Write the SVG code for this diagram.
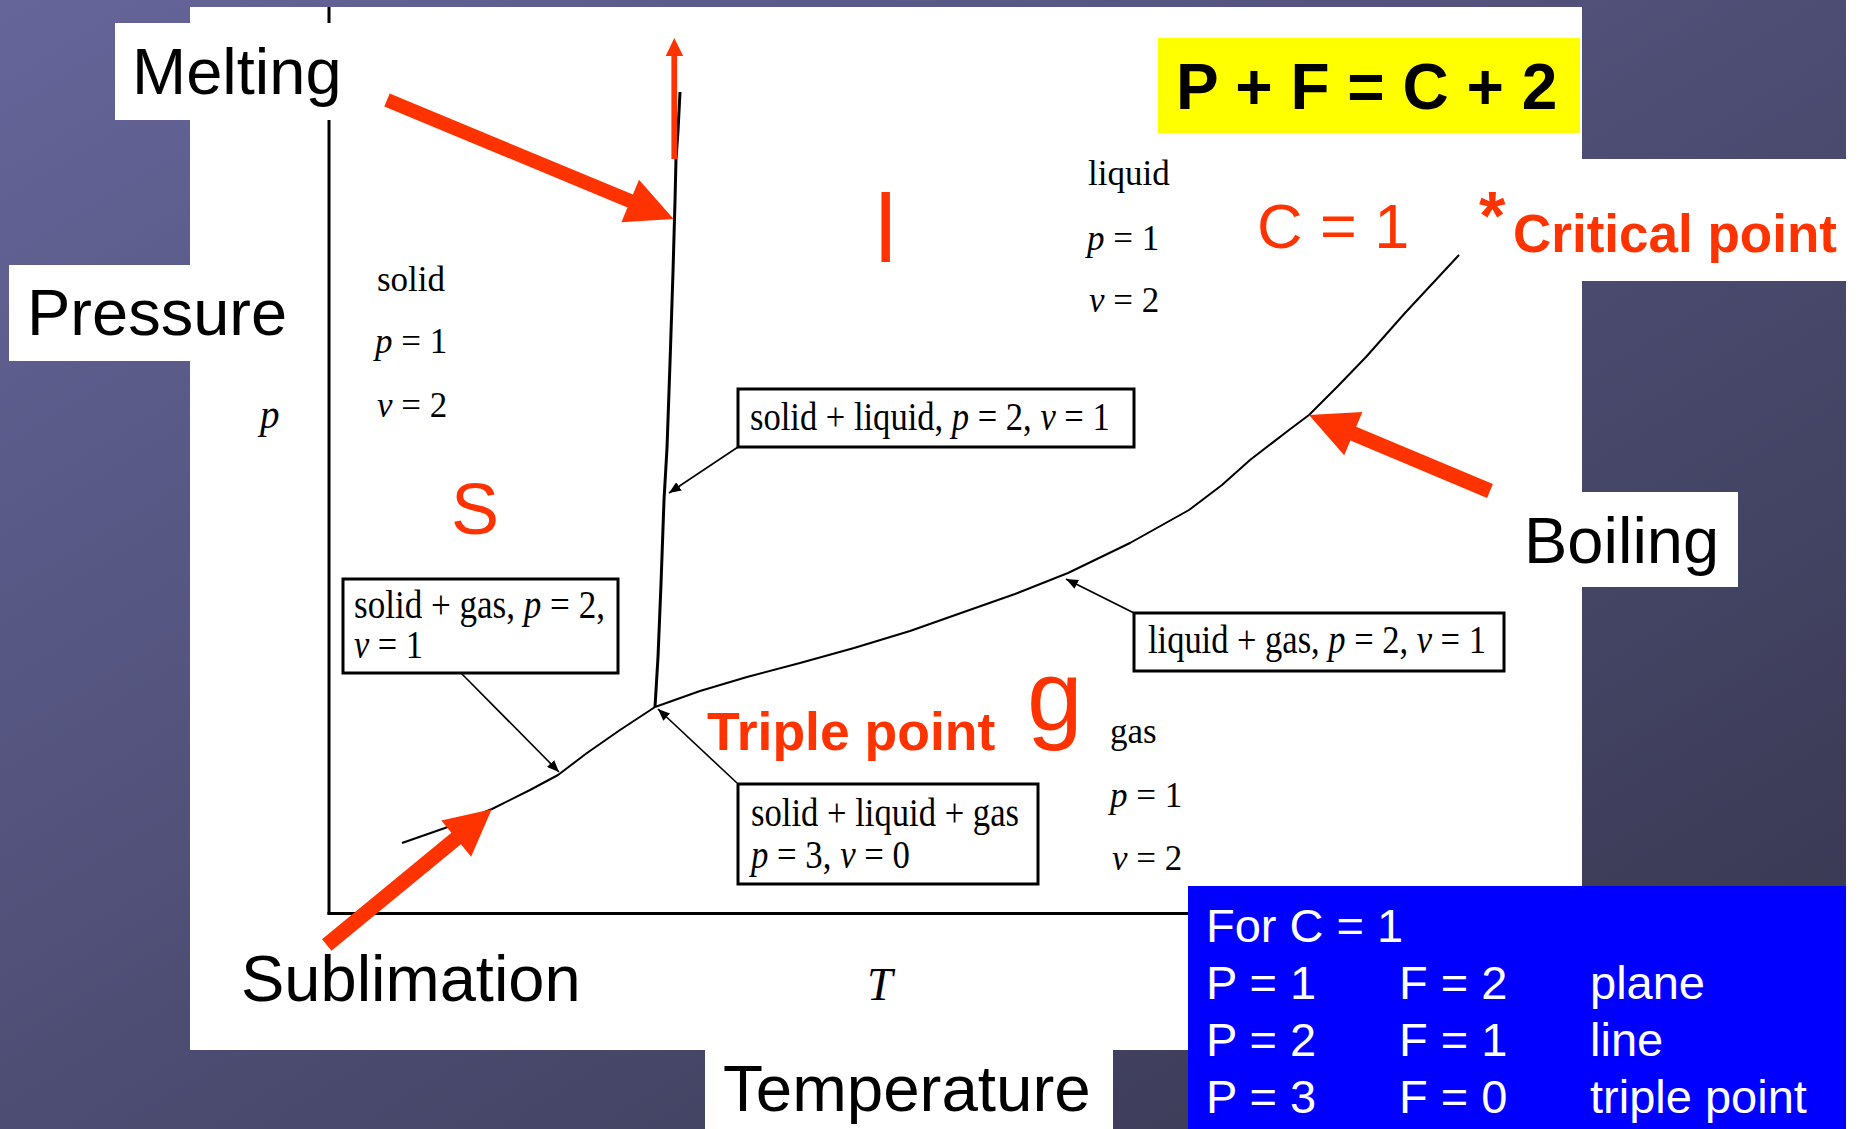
<svg xmlns="http://www.w3.org/2000/svg" width="1858" height="1129" viewBox="0 0 1858 1129">
  <defs>
    <linearGradient id="bg" x1="0" y1="0" x2="1" y2="1">
      <stop offset="0" stop-color="#65659a"/>
      <stop offset="1" stop-color="#35354d"/>
    </linearGradient>
    <marker id="ah" viewBox="0 0 12 10" refX="12" refY="5" markerWidth="12" markerHeight="10" markerUnits="userSpaceOnUse" orient="auto">
      <path d="M0,0 L12,5 L0,10 z" fill="#000"/>
    </marker>
    <style>
      .sans { font-family: "Liberation Sans", Arial, sans-serif; }
      .serif { font-family: "Liberation Serif", "Times New Roman", serif; fill: #000; }
      .it { font-style: italic; }
      .red { fill: #ff3300; }
      .wht { fill: #ffffff; }
      .box { fill: #ffffff; stroke: #000; stroke-width: 3; }
      .lead { stroke: #000; stroke-width: 1.6; fill: none; marker-end: url(#ah); }
      .curve { stroke: #000; stroke-width: 2; fill: none; stroke-linejoin: round; }
      .axis { stroke: #000; stroke-width: 3; fill: none; }
      .callout { fill: #ff3300; }
      .lbl { font-size: 65px; }
    </style>
  </defs>

  <!-- background and main panel -->
  <rect x="0" y="0" width="1858" height="1129" fill="url(#bg)"/>
  <rect x="1846" y="0" width="12" height="1129" fill="#ffffff"/>
  <rect x="190" y="7" width="1392" height="1043" fill="#ffffff"/>

  <!-- axes -->
  <g id="axes">
    <line class="axis" x1="329" y1="7" x2="329" y2="914.5"/>
    <line class="axis" x1="327.5" y1="913.5" x2="1200" y2="913.5"/>
  </g>

  <!-- connectors: phase boundaries and leader arrows -->
  <g id="connectors">
    <polyline class="curve" style="stroke-width:3" points="680,92 678,131 676,159 675,201 673,272 670,363 667,448 664,500 661,584 658,657 655,707"/>
    <polyline class="curve" points="402,843 445,828 492,809 530,790 558,775 587,753 620,730 655,707"/>
    <polyline class="curve" points="655,707 700,691 747,677 800,663 854,648 910,631 961,613 1015,594 1068,573 1130,543 1189,510 1222,485 1250,460 1289,430 1309,415 1338,386 1366,357 1405,313 1459,255"/>
    <line class="lead" x1="738" y1="447" x2="669" y2="493"/>
    <line class="lead" x1="460" y1="672" x2="559" y2="772"/>
    <line class="lead" x1="1134" y1="613" x2="1066" y2="579"/>
    <line class="lead" x1="737" y1="783" x2="658" y2="709"/>
  </g>

  <!-- boxed state labels -->
  <g id="box-solid-liquid">
    <rect class="box" x="738" y="389" width="396" height="58"/>
    <text class="serif" transform="translate(750,430) scale(0.864,1)" font-size="40">solid + liquid, <tspan class="it">p</tspan> = 2, <tspan class="it">ν</tspan> = 1</text>
  </g>
  <g id="box-solid-gas">
    <rect class="box" x="343" y="579" width="275" height="94"/>
    <text class="serif" transform="translate(354,618) scale(0.877,1)" font-size="40">solid + gas, <tspan class="it">p</tspan> = 2,</text>
    <text class="serif" transform="translate(354,658) scale(0.86,1)" font-size="40"><tspan class="it">ν</tspan> = 1</text>
  </g>
  <g id="box-liquid-gas">
    <rect class="box" x="1134" y="613" width="370" height="58"/>
    <text class="serif" transform="translate(1148,653) scale(0.862,1)" font-size="40">liquid + gas, <tspan class="it">p</tspan> = 2, <tspan class="it">ν</tspan> = 1</text>
  </g>
  <g id="box-triple">
    <rect class="box" x="738" y="784" width="300" height="100"/>
    <text class="serif" transform="translate(751,826) scale(0.866,1)" font-size="40">solid + liquid + gas</text>
    <text class="serif" transform="translate(751,868) scale(0.869,1)" font-size="40"><tspan class="it">p</tspan> = 3, <tspan class="it">ν</tspan> = 0</text>
  </g>

  <!-- region labels -->
  <g id="region-solid">
    <text class="serif" x="377" y="291" font-size="35">solid</text>
    <text class="serif" x="375" y="353" font-size="35"><tspan class="it">p</tspan> = 1</text>
    <text class="serif" x="377" y="417" font-size="35"><tspan class="it">ν</tspan> = 2</text>
  </g>
  <g id="region-liquid">
    <text class="serif" x="1088" y="185" font-size="35">liquid</text>
    <text class="serif" x="1087" y="250" font-size="35"><tspan class="it">p</tspan> = 1</text>
    <text class="serif" x="1089" y="312" font-size="35"><tspan class="it">ν</tspan> = 2</text>
  </g>
  <g id="region-gas">
    <text class="serif" x="1110" y="743" font-size="35">gas</text>
    <text class="serif" x="1110" y="807" font-size="35"><tspan class="it">p</tspan> = 1</text>
    <text class="serif" x="1112" y="870" font-size="35"><tspan class="it">ν</tspan> = 2</text>
  </g>
  <g id="axis-labels">
    <text class="serif it" x="260" y="428" font-size="39">p</text>
    <text class="serif it" x="867" y="1000" font-size="46">T</text>
  </g>

  <!-- red phase letters and notes -->
  <g id="phase-letters">
    <text class="sans red" x="875" y="262" font-size="96">l</text>
    <text class="sans red" x="451" y="534" font-size="72">S</text>
    <text class="sans red" x="1027" y="730" font-size="100">g</text>
  </g>
  <g id="triple-point-label">
    <text class="sans red" x="707" y="750" font-size="53.5" font-weight="bold">Triple point</text>
  </g>
  <g id="c-equals-1">
    <text class="sans red" x="1257" y="248" font-size="63">C = 1</text>
  </g>

  <!-- formula -->
  <g id="formula">
    <rect x="1158" y="38" width="422" height="95" fill="#ffff00"/>
    <text class="sans" x="1176" y="109" font-size="64" font-weight="bold">P + F = C + 2</text>
  </g>

  <!-- white label boxes -->
  <g id="label-melting">
    <rect class="wht" x="115" y="23" width="226" height="97"/>
    <text class="sans lbl" x="132" y="94">Melting</text>
  </g>
  <g id="label-pressure">
    <rect class="wht" x="9" y="265" width="291" height="96"/>
    <text class="sans lbl" x="27" y="335">Pressure</text>
  </g>
  <g id="label-critical">
    <rect class="wht" x="1560" y="159" width="286" height="122"/>
    <text class="sans red" x="1479" y="239" font-size="68" font-weight="bold">*</text>
    <text class="sans red" x="1513" y="252" font-size="53" font-weight="bold">Critical point</text>
  </g>
  <g id="label-boiling">
    <rect class="wht" x="1510" y="492" width="228" height="95"/>
    <text class="sans lbl" x="1524" y="563">Boiling</text>
  </g>
  <g id="label-sublimation">
    <text class="sans lbl" x="241" y="1001">Sublimation</text>
  </g>
  <g id="label-temperature">
    <rect class="wht" x="705" y="1045" width="408" height="84"/>
    <text class="sans" x="723" y="1111" font-size="65.5">Temperature</text>
  </g>

  <!-- summary table -->
  <g id="summary">
    <rect x="1188" y="886" width="658" height="243" fill="#0000ff"/>
    <g class="sans wht" font-size="47">
      <text x="1206" y="942">For C = 1</text>
      <text x="1206" y="999">P = 1</text>
      <text x="1399" y="999">F = 2</text>
      <text x="1590" y="999">plane</text>
      <text x="1206" y="1056">P = 2</text>
      <text x="1399" y="1056">F = 1</text>
      <text x="1590" y="1056">line</text>
      <text x="1206" y="1113">P = 3</text>
      <text x="1399" y="1113">F = 0</text>
      <text x="1590" y="1113">triple point</text>
    </g>
  </g>

  <!-- red callout arrows -->
  <g id="callout-arrows">
    <polygon class="callout" points="671.4,159 677.1,159 677.1,56 683.2,56 674.3,38 665.7,56 671.4,56"/>
    <polygon class="callout" points="384.3,106.5 627.5,207.5 621.4,222.2 673.6,219 639.0,179.8 632.9,194.5 389.7,93.5"/>
    <polygon class="callout" points="1492.9,484.1 1356.2,426.7 1362.4,411.9 1309,415 1344.2,455.3 1350.4,440.5 1487.1,497.9"/>
    <polygon class="callout" points="331.5,950.8 460.9,844.3 471.1,856.7 491.7,809.3 441.3,820.4 451.4,832.7 322.0,939.2"/>
  </g>
</svg>
